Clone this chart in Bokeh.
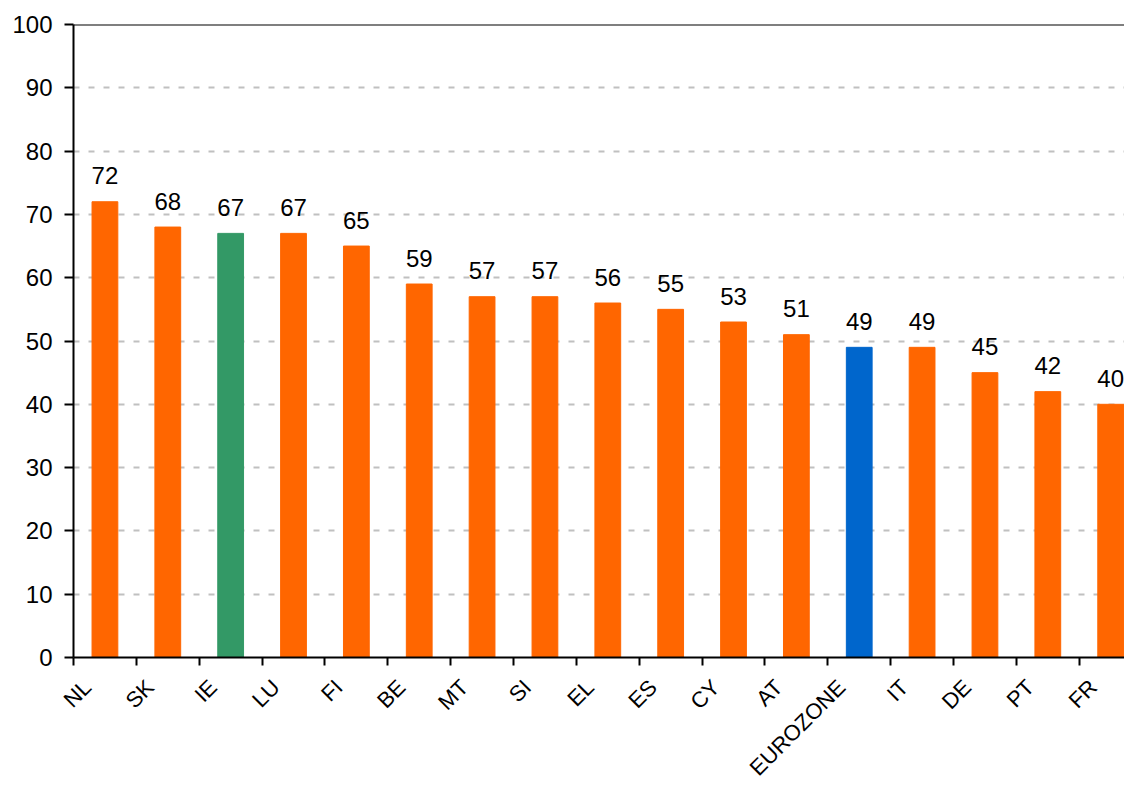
import math
from bokeh.plotting import figure
from bokeh.models import Range1d, FixedTicker, Span, ColumnDataSource
from bokeh.core.properties import value
from bokeh.embed import file_html
from bokeh.resources import INLINE

countries = ["NL", "SK", "IE", "LU", "FI", "BE", "MT", "SI", "EL", "ES", "CY", "AT",
             "EUROZONE", "IT", "DE", "PT", "FR"]
values = [72, 68, 67, 67, 65, 59, 57, 57, 56, 55, 53, 51, 49, 49, 45, 42, 40]
ORANGE = "#FF6600"
GREEN = "#339966"
BLUE = "#0066CC"
colors = [GREEN if c == "IE" else BLUE if c == "EUROZONE" else ORANGE for c in countries]
y_ticks = list(range(0, 101, 10))

FONT = "Liberation Sans"
FS = "24px"

n = len(countries)
centers = [i + 0.5 for i in range(n)]
src = ColumnDataSource(dict(x=centers, top=values, color=colors,
                            label=[str(v) for v in values]))

p = figure(width=1124, height=792, output_backend="svg", toolbar_location=None,
           x_range=Range1d(0, 16.72), y_range=Range1d(0, 100),
           min_border_left=73, min_border_right=0, min_border_top=24,
           min_border_bottom=135)
p.outline_line_color = None
p.background_fill_color = "white"
p.border_fill_color = "white"

p.vbar(x="x", top="top", width=0.41, bottom=0, color="color", source=src)
p.text(x="x", y="top", text="label", source=src, text_align="center",
       text_baseline="alphabetic", y_offset=-26, text_font=value(FONT),
       text_font_size=FS, text_color="black")

# y axis
ya = p.yaxis[0]
ya.ticker = FixedTicker(ticks=y_ticks)
ya.axis_line_width = 2
ya.axis_line_color = "black"
ya.major_tick_line_width = 2
ya.major_tick_out = 9
ya.major_tick_in = 0
ya.minor_tick_line_color = None
ya.major_label_text_font = FONT
ya.major_label_text_font_size = FS
ya.major_label_text_color = "black"
ya.major_label_standoff = 12

p.xgrid.visible = False
p.ygrid.ticker = FixedTicker(ticks=y_ticks[1:])
p.ygrid.grid_line_color = "#C0C0C0"
p.ygrid.grid_line_width = 2
p.ygrid.grid_line_dash = "6 9"

# x axis: category names as labels, tick marks at category boundaries (minor ticks)
label_pos = [c - 0.28 for c in centers]
xa = p.xaxis[0]
xa.ticker = FixedTicker(ticks=label_pos, minor_ticks=list(range(n + 1)))
xa.major_label_overrides = {lp: c for lp, c in zip(label_pos, countries)}
xa.axis_line_width = 2
xa.axis_line_color = "black"
xa.major_tick_line_color = None
xa.major_tick_out = 0
xa.major_tick_in = 0
xa.minor_tick_line_color = "black"
xa.minor_tick_line_width = 2
xa.minor_tick_out = 8
xa.minor_tick_in = 0
xa.major_label_orientation = math.pi / 4
xa.major_label_text_font = FONT
xa.major_label_text_font_size = "22px"
xa.major_label_text_color = "black"
xa.major_label_standoff = 18

p.add_layout(Span(location=100, dimension="width", line_color="black", line_width=2))

open("out.html", "w").write(file_html(p, INLINE))
